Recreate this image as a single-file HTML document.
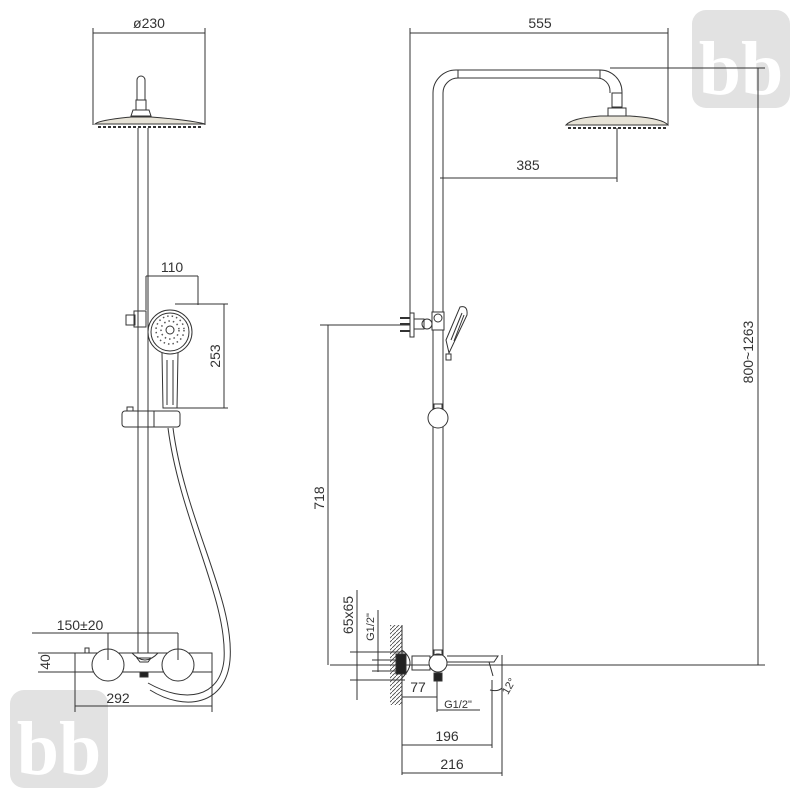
<!DOCTYPE html>
<html><head><meta charset="utf-8"><style>
html,body{margin:0;padding:0;background:#fff}
svg{display:block}
text{font-family:"Liberation Sans",sans-serif;fill:#333;font-size:14px}
</style></head><body>
<svg width="800" height="800" viewBox="0 0 800 800" xmlns="http://www.w3.org/2000/svg">
<defs>
<pattern id="h" width="4" height="4" patternUnits="userSpaceOnUse"><path d="M0 4L4 0" stroke="#444" stroke-width="0.8"/></pattern>
</defs>
<g>
<rect x="692" y="10" width="98" height="98" rx="14" fill="#e2e2e2"/>
<text x="741" y="94" text-anchor="middle" style="font-size:76px;font-weight:bold;fill:#fff;font-family:'Liberation Serif',serif">bb</text>
<rect x="10" y="690" width="98" height="98" rx="14" fill="#e2e2e2"/>
<text x="59" y="774" text-anchor="middle" style="font-size:76px;font-weight:bold;fill:#fff;font-family:'Liberation Serif',serif">bb</text>
</g>
<g fill="none" stroke="#333" stroke-width="1">
<!-- LEFT VIEW -->
<line x1="93" y1="28" x2="93" y2="125"/><line x1="205" y1="28" x2="205" y2="125"/>
<line x1="93" y1="33" x2="205" y2="33"/>
<path d="M137 100 V80 a4 4 0 0 1 8 0 V100"/>
<rect x="136" y="100" width="10" height="10"/>
<path d="M133 110 h16 l2 6 h-20 z"/>
<path d="M95 124 Q100 120 131 117 h20 Q190 120 205 124 z" fill="#e8e4d8"/>
<line x1="98" y1="127" x2="202" y2="127" stroke-dasharray="3 2" stroke-width="2"/>
<line x1="138" y1="128" x2="138" y2="653"/><line x1="148" y1="128" x2="148" y2="653"/>
<rect x="134" y="311" width="12" height="16"/>
<rect x="126" y="315" width="9" height="10"/>
<circle cx="170" cy="332" r="22"/><circle cx="170" cy="332" r="19"/>
<circle cx="170" cy="330" r="4"/>
<g stroke="#555" stroke-width="1.5" stroke-dasharray="1.5 3">
<circle cx="170" cy="330" r="9"/><circle cx="170" cy="330" r="14"/>
</g>
<path d="M162 353 L163 408 H177 L178 353"/>
<line x1="167" y1="360" x2="167" y2="405"/><line x1="173" y1="360" x2="173" y2="405"/>
<line x1="146" y1="276" x2="198" y2="276"/><line x1="146" y1="276" x2="146" y2="310"/><line x1="198" y1="276" x2="198" y2="305"/>
<line x1="175" y1="304" x2="228" y2="304"/><line x1="177" y1="408" x2="228" y2="408"/><line x1="224" y1="304" x2="224" y2="408"/>
<rect x="122" y="411" width="58" height="16" rx="3"/>
<line x1="154" y1="411" x2="154" y2="427"/>
<rect x="127" y="407" width="6" height="4"/>
<path d="M173 428 C185 520 235 600 230 660 C226 705 185 712 150 690"/>
<path d="M168 428 C180 520 228 600 224 660 C220 698 185 704 148 683"/>
<!-- thermostat -->
<rect x="75" y="653" width="137" height="19" fill="#fff"/>
<circle cx="108" cy="665" r="16" fill="#fff"/>
<circle cx="178" cy="665" r="16" fill="#fff"/>
<line x1="75" y1="653" x2="212" y2="653" stroke="none"/>
<path d="M132 653 q13 14 26 0"/>
<path d="M137 658 h14 l-3 4 h-8 z"/>
<rect x="85" y="648" width="4" height="5"/>
<rect x="140" y="672" width="8" height="5" fill="#222"/>
<line x1="32" y1="633" x2="178" y2="633"/><line x1="108" y1="633" x2="108" y2="660"/><line x1="178" y1="633" x2="178" y2="660"/>
<line x1="38" y1="653" x2="75" y2="653"/><line x1="38" y1="672" x2="75" y2="672"/>
<line x1="75" y1="672" x2="75" y2="712"/><line x1="212" y1="672" x2="212" y2="712"/>
<line x1="75" y1="706" x2="212" y2="706"/>

<!-- RIGHT VIEW -->
<line x1="410" y1="28" x2="410" y2="325"/><line x1="668" y1="28" x2="668" y2="125"/>
<line x1="410" y1="33" x2="668" y2="33"/>
<path d="M433 660 V93 a23 23 0 0 1 23 -23 H600 a22 22 0 0 1 22 22 V93"/>
<path d="M443 660 V93 a15 15 0 0 1 15 -15 H597 a13 13 0 0 1 13 13 V93"/>
<line x1="458" y1="70" x2="458" y2="78"/><line x1="600" y1="70" x2="600" y2="78"/>
<rect x="612" y="93" width="10" height="14"/>
<path d="M608 108 h18 v8 h-18 z"/>
<path d="M566 125 Q572 118 600 116 h30 Q662 118 668 125 z" fill="#e8e4d8"/>
<line x1="568" y1="128" x2="666" y2="128" stroke-dasharray="3 2" stroke-width="2"/>
<line x1="617" y1="128" x2="617" y2="182"/><line x1="440" y1="178" x2="617" y2="178"/>
<line x1="610" y1="68" x2="765" y2="68"/><line x1="758" y1="68" x2="758" y2="665"/>
<line x1="330" y1="665" x2="765" y2="665"/>
<line x1="320" y1="325" x2="410" y2="325"/><line x1="328" y1="325" x2="328" y2="665"/>
<rect x="410" y="313" width="4" height="24"/>
<path d="M400 318 h10 M400 324 h10 M400 331 h10" stroke-width="2"/>
<rect x="414" y="319" width="10" height="10"/>
<circle cx="427" cy="324" r="5"/>
<rect x="432" y="312" width="12" height="18" fill="#fff"/>
<circle cx="438" cy="318" r="4"/>
<path d="M446 340 L460 307 Q468 305 467 315 L449 353 Z"/>
<line x1="451" y1="340" x2="462" y2="313"/><line x1="454" y1="341" x2="464" y2="315"/>
<rect x="446" y="354" width="5" height="6"/>
<rect x="434" y="404" width="8" height="6"/>
<circle cx="438" cy="418" r="10" fill="#fff"/>
<rect x="390" y="625" width="12" height="80" fill="url(#h)" stroke="none"/>
<line x1="402" y1="625" x2="402" y2="705"/>
<rect x="396" y="654" width="10" height="20" fill="#222"/>
<path d="M402 650 q16 12 0 28"/>
<rect x="412" y="656" width="18" height="14"/>
<circle cx="438" cy="663" r="9" fill="#fff"/>
<rect x="434" y="650" width="8" height="5"/>
<rect x="434" y="673" width="8" height="8" fill="#222"/>
<path d="M447 656 H498 l-4 6 H447"/>
<path d="M489 662 l4 14"/>
<line x1="357" y1="590" x2="357" y2="700"/>
<line x1="350" y1="652" x2="405" y2="652"/><line x1="350" y1="680" x2="405" y2="680"/>
<line x1="378" y1="610" x2="378" y2="672"/>
<line x1="372" y1="660" x2="396" y2="660"/><line x1="372" y1="671" x2="396" y2="671"/>
<line x1="402" y1="705" x2="402" y2="775"/>
<line x1="402" y1="697" x2="437" y2="697"/><line x1="437" y1="680" x2="437" y2="712"/>
<line x1="437" y1="710" x2="480" y2="710"/>
<line x1="492" y1="680" x2="492" y2="748"/><line x1="402" y1="745" x2="492" y2="745"/>
<line x1="502" y1="655" x2="502" y2="776"/><line x1="402" y1="773" x2="502" y2="773"/>
<path d="M490 690 Q498 692 502 688"/>
</g>
<text x="149" y="28" text-anchor="middle">ø230</text>
<text x="172" y="272" text-anchor="middle">110</text>
<text x="220" y="356" text-anchor="middle" transform="rotate(-90 220 356)">253</text>
<text x="80" y="630" text-anchor="middle">150±20</text>
<text x="50" y="662" text-anchor="middle" transform="rotate(-90 50 662)">40</text>
<text x="118" y="703" text-anchor="middle">292</text>
<text x="540" y="28" text-anchor="middle">555</text>
<text x="528" y="170" text-anchor="middle">385</text>
<text x="753" y="352" text-anchor="middle" transform="rotate(-90 753 352)">800~1263</text>
<text x="324" y="498" text-anchor="middle" transform="rotate(-90 324 498)">718</text>
<text x="353" y="615" text-anchor="middle" transform="rotate(-90 353 615)">65x65</text>
<text x="374" y="627" text-anchor="middle" transform="rotate(-90 374 627)" style="font-size:11px">G1/2"</text>
<text x="418" y="692" text-anchor="middle">77</text>
<text x="458" y="708" text-anchor="middle" style="font-size:11px">G1/2"</text>
<text x="512" y="688" text-anchor="middle" transform="rotate(-60 512 688)" style="font-size:11px">12°</text>
<text x="447" y="741" text-anchor="middle">196</text>
<text x="452" y="769" text-anchor="middle">216</text>
</svg>
</body></html>
